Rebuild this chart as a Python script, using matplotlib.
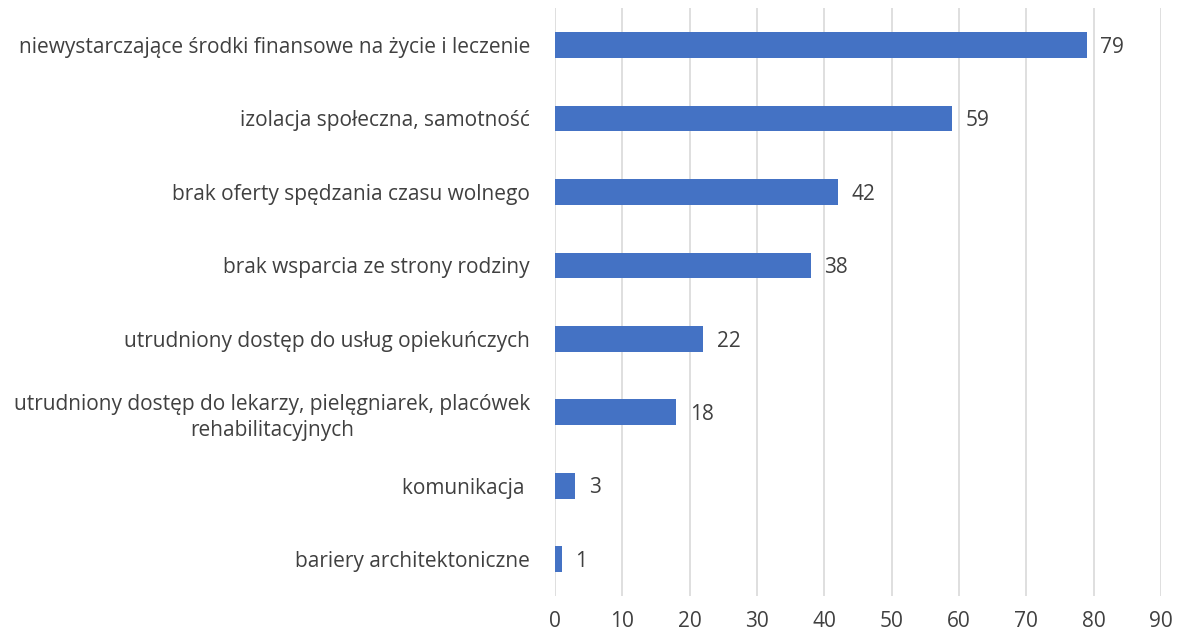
import matplotlib.pyplot as plt

# dane z wykresu (od góry do dołu)
categories = [
    "niewystarczające środki finansowe na życie i leczenie",
    "izolacja społeczna, samotność",
    "brak oferty spędzania czasu wolnego",
    "brak wsparcia ze strony rodziny",
    "utrudniony dostęp do usług opiekuńczych",
    "utrudniony dostęp do lekarzy, pielęgniarek, placówek\nrehabilitacyjnych",
    "komunikacja ",
    "bariery architektoniczne",
]
values = [79, 59, 42, 38, 22, 18, 3, 1]
x_ticks = list(range(0, 100, 10))

plt.rcParams['font.family'] = ['Open Sans', 'DejaVu Sans']
FS = 15

fig = plt.figure(figsize=(11.81, 6.38), dpi=100)
ax = fig.add_axes([0.470, 0.066, 0.513, 0.921])

pos = list(range(len(categories)))
bars = ax.barh(pos, values, height=0.35, color="#4472C4", zorder=3)
ax.set_ylim(len(categories) - 0.5, -0.5)
ax.set_xlim(0, 90)
ax.set_xticks(x_ticks)

for b, v in zip(bars, values):
    ax.text(b.get_width() + 2.0, b.get_y() + b.get_height() / 2 + 0.03, str(v),
            va="center", ha="left", fontsize=FS, color="#404040")

ax.set_yticks(pos)
ax.set_yticklabels(categories, fontsize=FS, color="#404040", linespacing=1.35)
for lbl in ax.get_yticklabels():
    lbl.set_multialignment("center")
ax.tick_params(axis="y", length=0, pad=18)
ax.tick_params(axis="x", length=0, pad=11, labelsize=FS, labelcolor="#404040")

ax.grid(axis="x", color="#D9D9D9", linewidth=1.2, zorder=0)
for s in ax.spines.values():
    s.set_visible(False)

fig.savefig("out.png", dpi=100)
